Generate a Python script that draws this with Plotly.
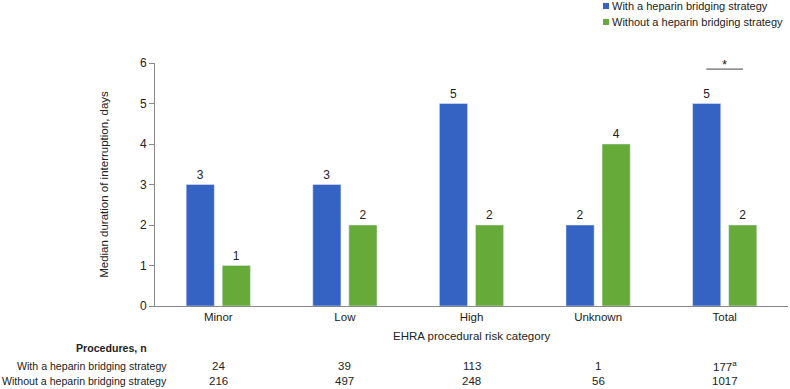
import plotly.graph_objects as go

categories = ["Minor", "Low", "High", "Unknown", "Total"]
with_bridging = [3, 3, 5, 2, 5]
without_bridging = [1, 2, 2, 4, 2]
n_with = ["24", "39", "113", "1", "177<sup>a</sup>"]
n_without = ["216", "497", "248", "56", "1017"]
series_names = ["With a heparin bridging strategy", "Without a heparin bridging strategy"]

BLUE = "#3563C3"
GREEN = "#66AB3A"
FONT = "Liberation Sans, Arial, sans-serif"
TXT = "#222222"
FS = 11
FR = 10.6

fig = go.Figure()
fig.add_trace(go.Bar(x=categories, y=with_bridging, name=series_names[0], marker_color=BLUE,
                     text=with_bridging, textposition="outside", cliponaxis=False,
                     textfont=dict(size=12, color=TXT)))
fig.add_trace(go.Bar(x=categories, y=without_bridging, name=series_names[1], marker_color=GREEN,
                     text=without_bridging, textposition="outside", cliponaxis=False,
                     textfont=dict(size=12, color=TXT)))

H = 243.0
W = 633.0
def py(p):
    return (306 - p) / H
def px(p):
    return (p - 155) / W

ann = []
ann.append(dict(text="EHRA procedural risk category", xref="paper", yref="paper", x=0.5, y=py(336),
                showarrow=False, font=dict(size=11.5, color=TXT), yanchor="middle"))
ann.append(dict(text="<b>Procedures, n</b>", xref="paper", yref="paper", x=px(149), y=py(348),
                showarrow=False, font=dict(size=FR, color=TXT), xanchor="right", yanchor="middle"))
ann.append(dict(text=series_names[0], xref="paper", yref="paper", x=px(169), y=py(366),
                showarrow=False, font=dict(size=FR, color=TXT), xanchor="right", yanchor="middle"))
ann.append(dict(text=series_names[1], xref="paper", yref="paper", x=px(169), y=py(381),
                showarrow=False, font=dict(size=FR, color=TXT), xanchor="right", yanchor="middle"))
for c, a, b in zip(categories, n_with, n_without):
    ann.append(dict(text=a, xref="x", yref="paper", x=c, y=py(366), showarrow=False,
                    font=dict(size=11.5, color=TXT), yanchor="middle"))
    ann.append(dict(text=b, xref="x", yref="paper", x=c, y=py(381), showarrow=False,
                    font=dict(size=11.5, color=TXT), yanchor="middle"))
# significance marker over Total
ann.append(dict(text="*", xref="x", yref="y", x="Total", y=5.97, showarrow=False,
                font=dict(size=13, color=TXT), yanchor="middle"))
# manual legend
colors = [BLUE, GREEN]
legend_y = [6, 22]
shapes = []
for name, col, ly in zip(series_names, colors, legend_y):
    ann.append(dict(text=name, xref="paper", yref="paper", x=px(610), y=py(ly), showarrow=False,
                    font=dict(size=FS, color=TXT), xanchor="left", yanchor="middle"))
    shapes.append(dict(type="rect", xref="paper", yref="paper", x0=px(603), x1=px(609),
                       y0=py(ly + 3), y1=py(ly - 3), fillcolor=col, line=dict(width=0)))
shapes.append(dict(type="line", xref="x", yref="y", x0=4 - 0.145, x1=4 + 0.145, y0=5.85, y1=5.85,
                   line=dict(color="#444444", width=1)))
fig.update_layout(annotations=ann, shapes=shapes)

fig.update_layout(
    width=790, height=389,
    margin=dict(l=155, r=2, t=63, b=83, autoexpand=False),
    paper_bgcolor="white", plot_bgcolor="white",
    font=dict(family=FONT, size=FS, color=TXT),
    barmode="group", bargap=0.43, bargroupgap=0.22,
    showlegend=False,
    xaxis=dict(showline=True, linecolor="#888888", linewidth=1, ticks="", showgrid=False,
               tickfont=dict(size=11.5, color=TXT)),
    yaxis=dict(range=[0, 6], dtick=1, showline=True, linecolor="#888888", linewidth=1,
               ticks="outside", ticklen=5, tickcolor="#888888", showgrid=False, zeroline=False,
               tickfont=dict(size=12, color=TXT),
               title=dict(text="Median duration of interruption, days", font=dict(size=11.5, color=TXT),
                          standoff=28)),
)

fig.write_html("out.html", config={"displayModeBar": False},
               post_script="document.body.style.margin='0';document.body.style.overflow='hidden';")
